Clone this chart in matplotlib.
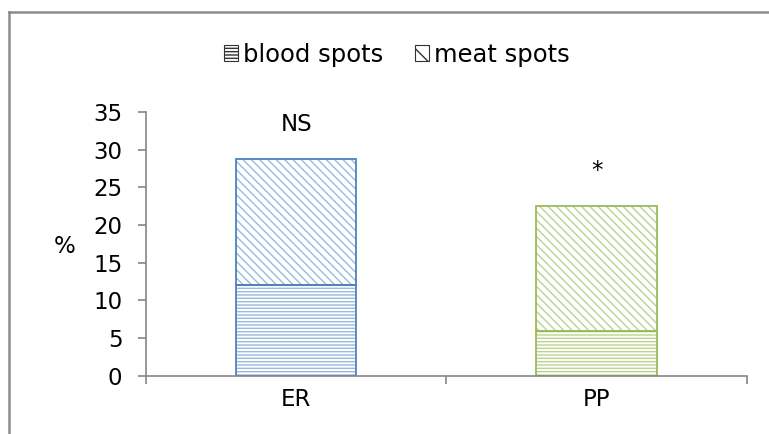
import matplotlib.pyplot as plt
from matplotlib.patches import Patch
from matplotlib.lines import Line2D

# data
groups = ["ER", "PP"]
blood_spots = [12.0, 6.0]
meat_spots = [16.8, 16.5]   # stacked on top of blood spots
marks = ["NS", "*"]
mark_y = [33.3, 27.3]

edge_cols = ["#4f81bd", "#9bbb59"]
hatch_cols = ["#9ab8e0", "#bcd38e"]

plt.rcParams['font.family'] = ['DejaVu Sans']
plt.rcParams['hatch.linewidth'] = 1.0

fig = plt.figure(figsize=(7.69, 4.34), dpi=100)
ax = fig.add_axes([0.19, 0.134, 0.781, 0.608])

x = list(range(len(groups)))
w = 0.4

for i in x:
    # hatched fill (hatch takes the edge colour, so draw it light first)
    ax.bar(i, blood_spots[i], w, color="white", edgecolor=hatch_cols[i],
           hatch="-----", linewidth=0)
    ax.bar(i, meat_spots[i], w, bottom=blood_spots[i], color="white",
           edgecolor=hatch_cols[i], hatch="\\\\\\\\", linewidth=0)
    # outlines
    ax.bar(i, blood_spots[i], w, fill=False, edgecolor=edge_cols[i], linewidth=1.3)
    ax.bar(i, meat_spots[i], w, bottom=blood_spots[i], fill=False,
           edgecolor=edge_cols[i], linewidth=1.3)
    ax.text(i, mark_y[i], marks[i], ha="center", va="center", fontsize=16.5)

ax.set_xlim(-0.5, 1.5)
ax.set_ylim(0, 35)
ax.set_yticks(range(0, 36, 5))
ax.set_xticks([-0.5, 0.5, 1.5])
ax.set_xticklabels([])
ax.set_xticks(x, minor=True)
ax.set_xticklabels(groups, minor=True)

grey = "#868686"
for s in ["top", "right"]:
    ax.spines[s].set_visible(False)
for s in ["left", "bottom"]:
    ax.spines[s].set_color(grey)
    ax.spines[s].set_linewidth(1.2)
ax.tick_params(axis="y", which="major", length=6, color=grey, width=1.2,
               pad=11, labelsize=16.5)
ax.tick_params(axis="x", which="major", length=6, color=grey, width=1.2)
ax.tick_params(axis="x", which="minor", length=0, pad=9, labelsize=16.5)

ax.set_ylabel("%", rotation=0, fontsize=16.5, ha="center", va="center")
ax.yaxis.set_label_coords(-0.135, 17.1 / 35)

handles = [Patch(facecolor="white", edgecolor="#333333", hatch="-----", linewidth=0.8),
           Patch(facecolor="white", edgecolor="#333333", hatch="\\\\", linewidth=0.8)]
fig.legend(handles, ["blood spots", "meat spots"], loc="center",
           bbox_to_anchor=(0.516, 0.874), ncol=2, frameon=False, fontsize=17.5,
           handlelength=0.6, handleheight=0.6, handletextpad=0.2,
           columnspacing=1.3)

# chart border (top and left edges visible)
fig.add_artist(Line2D([9 / 769, 9 / 769], [0, 1 - 12 / 434], transform=fig.transFigure,
                      color="#8c8c8c", linewidth=1.8))
fig.add_artist(Line2D([9 / 769, 1], [1 - 12 / 434, 1 - 12 / 434], transform=fig.transFigure,
                      color="#8c8c8c", linewidth=1.8))

fig.savefig("out.png", dpi=100)
